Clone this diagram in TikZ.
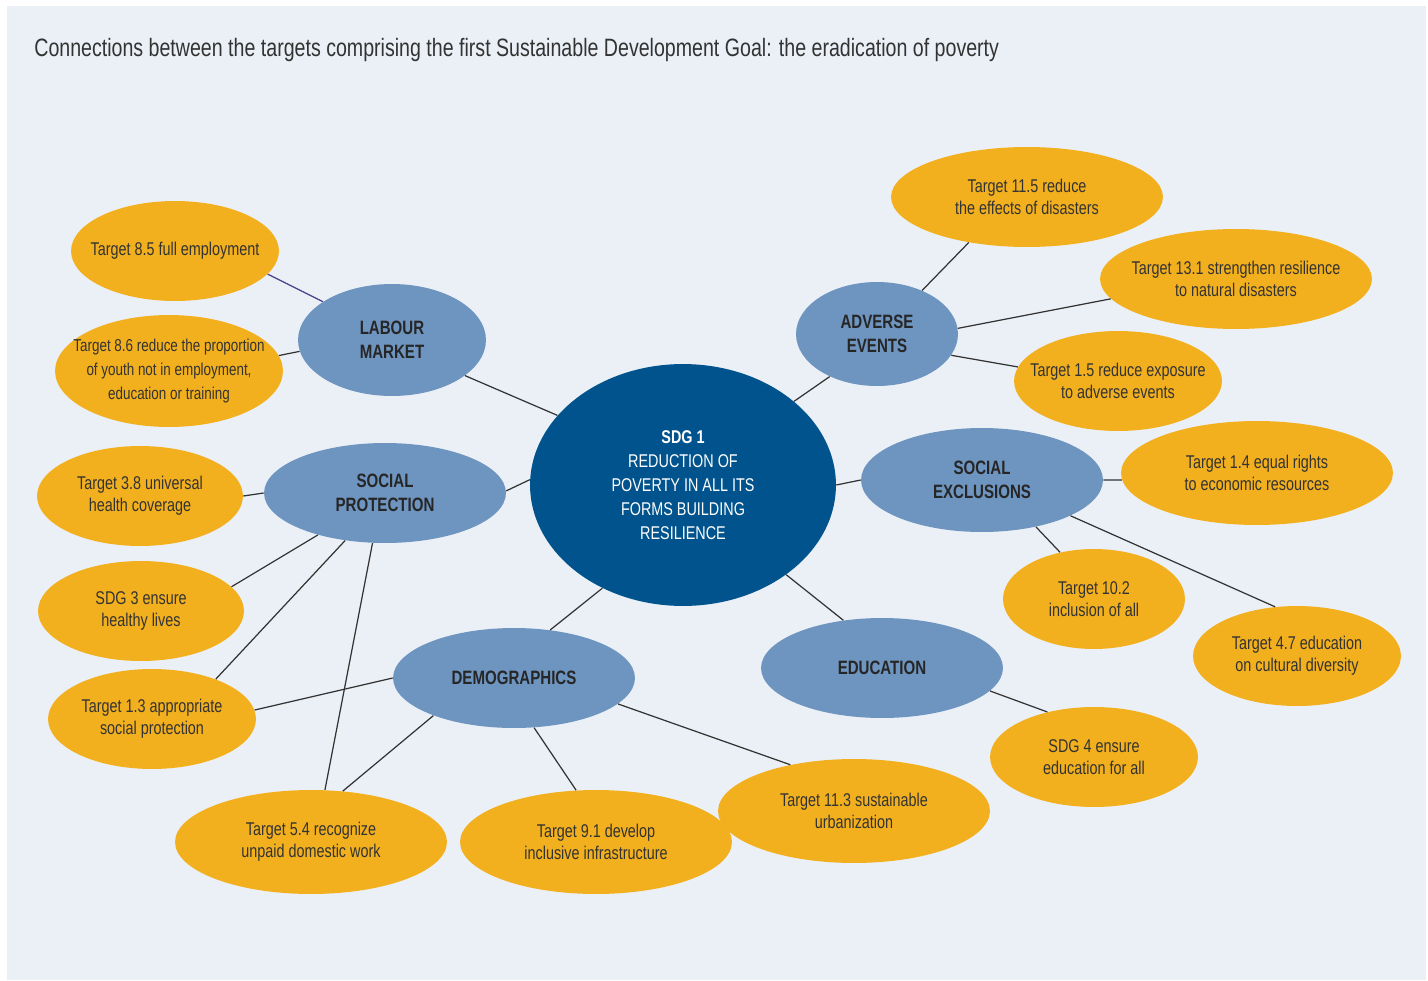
\documentclass[tikz,border=0pt]{standalone}
\usepackage{fontspec}
\setmainfont{Liberation Sans}[FakeStretch=0.78]
\usepackage{tikz}
\usetikzlibrary{shapes.geometric}
\definecolor{bgblue}{RGB}{235,240,247}
\definecolor{gold}{RGB}{242,176,30}
\definecolor{steel}{RGB}{110,148,192}
\definecolor{navy}{RGB}{0,83,140}
\definecolor{ink}{RGB}{51,51,51}
\definecolor{linkviolet}{RGB}{72,62,140}

\tikzset{
  esize/.style 2 args={minimum width=#1*0.04cm, minimum height=#2*0.04cm},
  % negative inner sep: the ellipse keeps its given size, whatever the text
  bubble/.style={ellipse, inner xsep=-3cm, inner ysep=-1cm, align=center},
  target/.style={bubble, fill=gold, text=ink,
    font=\fontsize{10.5}{12.5}\selectfont},
  theme/.style={bubble, fill=steel, text=black!85,
    font=\fontsize{11}{13.6}\selectfont\bfseries},
  core/.style={bubble, fill=navy, text=white,
    font=\fontsize{10.5}{13.6}\selectfont},
  link/.style={draw=ink, line width=0.7pt}
}

\begin{document}
\begin{tikzpicture}[x=0.02cm, y=-0.02cm]
    \useasboundingbox (0,0) rectangle (1428,981);
    % Background
    \fill[bgblue] (7,6) rectangle (1426,980);
    \node[anchor=base west, inner sep=0pt, text=ink, font=\fontsize{14.3}{16}\selectfont] (title) at (34,56)
        {Connections between the targets comprising the first Sustainable Development Goal: the eradication of poverty};

    % Centre
    \node[core, esize={153}{121}] (sdg1) at (683,485)
        {\textbf{SDG 1}\\REDUCTION OF\\POVERTY IN ALL ITS\\FORMS BUILDING\\RESILIENCE};

    % Themes
    \node[theme, esize={94}{56}] (labour) at (392,340) {LABOUR\\MARKET};
    \node[theme, esize={121}{50}] (socprot) at (385,493) {SOCIAL\\PROTECTION};
    \node[theme, esize={121}{50}] (demo) at (514,678) {DEMOGRAPHICS};
    \node[theme, esize={121}{50}] (edu) at (882,668) {EDUCATION};
    \node[theme, esize={121}{52}] (socexcl) at (982,480) {SOCIAL\\EXCLUSIONS};
    \node[theme, esize={81}{52}] (adverse) at (877,334) {ADVERSE\\EVENTS};

    % Targets - left
    \node[target, esize={104}{50}] (t85) at (175,251) {Target 8.5 full employment};
    \node[target, esize={114}{56}, font=\fontsize{9.8}{13.6}\selectfont] (t86) at (169,371)
        {Target 8.6 reduce the proportion\\of youth not in employment,\\education or training};
    \node[target, esize={103}{50}] (t38) at (140,496) {Target 3.8 universal\\health coverage};
    \node[target, esize={103}{50}] (sdg3) at (141,611) {SDG 3 ensure\\healthy lives};
    \node[target, esize={104}{50}] (t13) at (152,719) {Target 1.3 appropriate\\social protection};

    % Targets - bottom
    \node[target, esize={136}{52}] (t54) at (311,842) {Target 5.4 recognize\\unpaid domestic work};
    \node[target, esize={136}{52}] (t91) at (596,842) {Target 9.1 develop\\inclusive infrastructure};
    \node[target, esize={136}{52}] (t113) at (854,811) {Target 11.3 sustainable\\urbanization};
    \node[target, esize={104}{50}] (sdg4) at (1094,757) {SDG 4 ensure\\education for all};

    % Targets - right
    \node[target, esize={136}{50}] (t115) at (1027,197) {Target 11.5 reduce\\the effects of disasters};
    \node[target, esize={136}{50}] (t131) at (1236,279) {Target 13.1 strengthen resilience\\to natural disasters};
    \node[target, esize={104}{50}] (t15) at (1118,381) {Target 1.5 reduce exposure\\to adverse events};
    \node[target, esize={136}{52}] (t14) at (1257,473) {Target 1.4 equal rights\\to economic resources};
    \node[target, esize={91}{50}] (t102) at (1094,599) {Target 10.2\\inclusion of all};
    \node[target, esize={104}{50}] (t47) at (1297,656) {Target 4.7 education\\on cultural diversity};

    % Connectors
    \draw[link, draw=linkviolet] (t85.-14) -- (labour.151);
    \draw[link] (t86.8) -- (labour.187);
    \draw[link] (labour.-26) -- (sdg1.151);
    \draw[link] (t38.0) -- (socprot.180);
    \draw[link] (socprot.1) -- (sdg1.178);
    \draw[link] (socprot.212) -- (sdg3.15);
    \draw[link] (socprot.230) -- (t13.32);
    \draw[link] (socprot.256) -- (t54.75);
    \draw[link] (demo.180) -- (t13.5);
    \draw[link] (demo.205) -- (t54.58);
    \draw[link] (demo.-68) -- (t91.111);
    \draw[link] (demo.-14) -- (t113.144);
    \draw[link] (demo.53) -- (sdg1.232);
    \draw[link] (sdg1.-41) -- (edu.129);
    \draw[link] (edu.-12) -- (sdg4.136);
    \draw[link] (sdg1.0) -- (socexcl.180);
    \draw[link] (socexcl.0) -- (t14.183);
    \draw[link] (socexcl.-41) -- (t102.126);
    \draw[link] (socexcl.-22) -- (t47.114);
    \draw[link] (sdg1.37) -- (adverse.222);
    \draw[link] (adverse.44) -- (t115.218);
    \draw[link] (adverse.4) -- (t131.189);
    \draw[link] (adverse.-16) -- (t15.172);
\end{tikzpicture}
\end{document}
